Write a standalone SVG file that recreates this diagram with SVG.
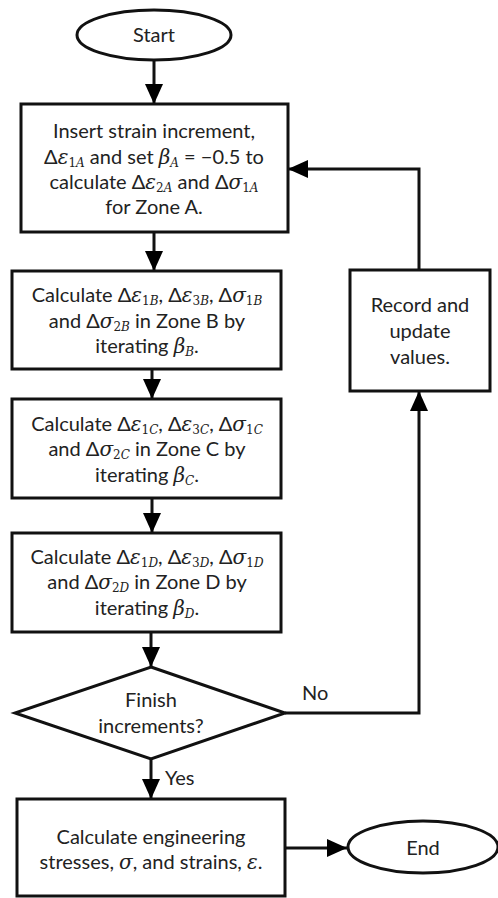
<svg xmlns="http://www.w3.org/2000/svg" width="498" height="898" viewBox="0 0 498 898">
<defs>
<marker id="ah" markerUnits="userSpaceOnUse" markerWidth="20" markerHeight="18" refX="20" refY="9" orient="auto">
<path d="M0,0 L20,9 L0,18 z" fill="#000"/>
</marker>
<style>
.sh{fill:#fff;stroke:#111;stroke-width:3}
.t{font-family:Lato,"Open Sans",sans-serif;font-size:20px;fill:#222;text-anchor:middle}
.l{font-family:Lato,"Open Sans",sans-serif;font-size:20px;fill:#222}
.m{font-family:"DejaVu Serif","Liberation Serif",serif;font-style:italic}
.s{font-family:"DejaVu Serif","Liberation Serif",serif;font-size:12px}
.si{font-family:"DejaVu Serif","Liberation Serif",serif;font-size:12px;font-style:italic}
.c{fill:none;stroke:#111;stroke-width:3}
</style>
</defs>
<rect width="498" height="898" fill="#fff"/>
<g id="connectors">
<path class="c" d="M154,61 V104" marker-end="url(#ah)"/>
<path class="c" d="M154,232 V271" marker-end="url(#ah)"/>
<path class="c" d="M152,369 V399" marker-end="url(#ah)"/>
<path class="c" d="M152,498 V533" marker-end="url(#ah)"/>
<path class="c" d="M151,632 V667" marker-end="url(#ah)"/>
<path class="c" d="M151,759 V799" marker-end="url(#ah)"/>
<path class="c" d="M285,713 H419 V391" marker-end="url(#ah)"/>
<path class="c" d="M419,270 V169 H288" marker-end="url(#ah)"/>
<path class="c" d="M285,848 H347" marker-end="url(#ah)"/>
<text class="l" x="302" y="700">No</text>
<text class="l" x="165" y="785">Yes</text>
</g>
<g id="start">
<ellipse class="sh" cx="154" cy="35" rx="77" ry="25"/>
<text class="t" x="154" y="42">Start</text>
</g>
<g id="zoneA">
<rect class="sh" x="21" y="104" width="267" height="128"/>
<text class="t" x="154" y="138">Insert strain increment,</text>
<text class="t" x="154" y="164">Δ<tspan class="m">ε</tspan><tspan class="s" dy="3">1</tspan><tspan class="si">A</tspan><tspan dy="-3">  and set </tspan><tspan class="m">β</tspan><tspan class="si" dy="3">A</tspan><tspan dy="-3"> = −0.5 to</tspan></text>
<text class="t" x="154" y="189">calculate Δ<tspan class="m">ε</tspan><tspan class="s" dy="3">2</tspan><tspan class="si">A</tspan><tspan dy="-3"> and Δ</tspan><tspan class="m">σ</tspan><tspan class="s" dy="3">1</tspan><tspan class="si">A</tspan></text>
<text class="t" x="154" y="214">for Zone A.</text>
</g>
<g id="zoneB">
<rect class="sh" x="12" y="271" width="269" height="98"/>
<text class="t" x="147" y="302">Calculate Δ<tspan class="m">ε</tspan><tspan class="s" dy="3">1</tspan><tspan class="si">B</tspan><tspan dy="-3">, Δ</tspan><tspan class="m">ε</tspan><tspan class="s" dy="3">3</tspan><tspan class="si">B</tspan><tspan dy="-3">, Δ</tspan><tspan class="m">σ</tspan><tspan class="s" dy="3">1</tspan><tspan class="si">B</tspan></text>
<text class="t" x="147" y="328">and Δ<tspan class="m">σ</tspan><tspan class="s" dy="3">2</tspan><tspan class="si">B</tspan><tspan dy="-3"> in Zone B by</tspan></text>
<text class="t" x="147" y="353">iterating <tspan class="m">β</tspan><tspan class="si" dy="3">B</tspan><tspan dy="-3">.</tspan></text>
</g>
<g id="zoneC">
<rect class="sh" x="12" y="399" width="269" height="99"/>
<text class="t" x="147" y="431">Calculate Δ<tspan class="m">ε</tspan><tspan class="s" dy="3">1</tspan><tspan class="si">C</tspan><tspan dy="-3">, Δ</tspan><tspan class="m">ε</tspan><tspan class="s" dy="3">3</tspan><tspan class="si">C</tspan><tspan dy="-3">, Δ</tspan><tspan class="m">σ</tspan><tspan class="s" dy="3">1</tspan><tspan class="si">C</tspan></text>
<text class="t" x="147" y="456">and Δ<tspan class="m">σ</tspan><tspan class="s" dy="3">2</tspan><tspan class="si">C</tspan><tspan dy="-3"> in Zone C by</tspan></text>
<text class="t" x="147" y="482">iterating <tspan class="m">β</tspan><tspan class="si" dy="3">C</tspan><tspan dy="-3">.</tspan></text>
</g>
<g id="zoneD">
<rect class="sh" x="12" y="533" width="269" height="99"/>
<text class="t" x="147" y="564">Calculate Δ<tspan class="m">ε</tspan><tspan class="s" dy="3">1</tspan><tspan class="si">D</tspan><tspan dy="-3">, Δ</tspan><tspan class="m">ε</tspan><tspan class="s" dy="3">3</tspan><tspan class="si">D</tspan><tspan dy="-3">, Δ</tspan><tspan class="m">σ</tspan><tspan class="s" dy="3">1</tspan><tspan class="si">D</tspan></text>
<text class="t" x="147" y="589">and Δ<tspan class="m">σ</tspan><tspan class="s" dy="3">2</tspan><tspan class="si">D</tspan><tspan dy="-3"> in Zone D by</tspan></text>
<text class="t" x="147" y="615">iterating <tspan class="m">β</tspan><tspan class="si" dy="3">D</tspan><tspan dy="-3">.</tspan></text>
</g>
<g id="decision">
<polygon class="sh" points="151,667 285,713 151,759 15,713"/>
<text class="t" x="151" y="707">Finish</text>
<text class="t" x="151" y="733">increments?</text>
</g>
<g id="record">
<rect class="sh" x="350" y="270" width="140" height="121"/>
<text class="t" x="420" y="312">Record and</text>
<text class="t" x="420" y="338">update</text>
<text class="t" x="420" y="364">values.</text>
</g>
<g id="engineering">
<rect class="sh" x="17" y="799" width="268" height="97"/>
<text class="t" x="151" y="844">Calculate engineering</text>
<text class="t" x="151" y="869">stresses, <tspan class="m">σ</tspan>, and strains, <tspan class="m">ε</tspan>.</text>
</g>
<g id="end">
<ellipse class="sh" cx="423" cy="847" rx="75" ry="26"/>
<text class="t" x="423" y="855">End</text>
</g>
</svg>
